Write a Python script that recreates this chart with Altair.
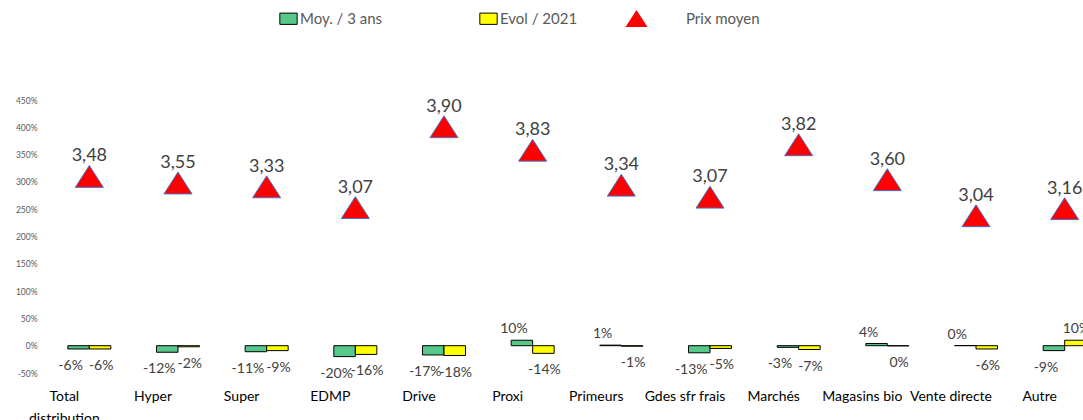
import altair as alt
import pandas as pd

categories = ["Total distribution", "Hyper", "Super", "EDMP", "Drive", "Proxi",
              "Primeurs", "Gdes sfr frais", "Marchés", "Magasins bio",
              "Vente directe", "Autre"]
moy_3ans = [-6, -12, -11, -20, -17, 10, 1, -13, -3, 4, 0.3, -9]
evol_2021 = [-6, -2, -9, -16, -18, -14, -1, -5, -7, -0.3, -6, 10]
prix_moyen = [3.48, 3.55, 3.33, 3.07, 3.90, 3.83, 3.34, 3.07, 3.82, 3.60, 3.04, 3.16]
prix_position = [310, 298, 291, 253, 401, 358, 294, 272, 368, 304, 238, 251]
y_ticks = [-50, 0, 50, 100, 150, 200, 250, 300, 350, 400, 450]

S1, S2 = "Moy. / 3 ans", "Evol / 2021"
rows = []
for c, a, b in zip(categories, moy_3ans, evol_2021):
    rows.append({"cat": c, "serie": S1, "v": a, "lab": f"{round(a)}%"})
    rows.append({"cat": c, "serie": S2, "v": b, "lab": f"{round(b)}%"})
bars_df = pd.DataFrame(rows)

pts_df = pd.DataFrame({
    "cat": categories,
    "pos": prix_position,
    "lab": [f"{p:.2f}".replace(".", ",") for p in prix_moyen],
    "leg": ["Prix moyen"] * len(categories),
})

FONT = "Lato"
W = 1038
xscale = alt.Scale(domain=categories, range=[0, 1064], paddingInner=0.515, paddingOuter=0.2575)
yscale = alt.Scale(domain=[-50, 450], nice=False, zero=False)

x_enc = alt.X("cat:N", scale=xscale, sort=categories, title=None,
              axis=alt.Axis(labelAngle=0, domain=False, ticks=False, labelPadding=16,
                            labelFontSize=14, labelFont=FONT, labelColor="#000000",
                            labelOffset=-25, labelLimit=200, labelLineHeight=22,
                            labelExpr="datum.value == 'Total distribution' ? ['Total', 'distribution'] : datum.value"))
y_enc = alt.Y("v:Q", scale=yscale, title=None,
              axis=alt.Axis(values=y_ticks, tickCount=len(y_ticks) + 2, grid=False,
                            domain=False, ticks=False,
                            labelOverlap=False, labelSeparation=0,
                            labelExpr="datum.value + '%'", labelFontSize=8.5, labelFont=FONT,
                            labelColor="#595959", labelPadding=8))

bar_rect = "M-1,-0.65H1V0.65H-1Z"
tri = "M0,-0.78L1,0.78L-1,0.78Z"

bars = alt.Chart(bars_df).mark_bar(stroke="black", strokeWidth=1).encode(
    x=x_enc,
    xOffset=alt.XOffset("serie:N", sort=[S1, S2], scale=alt.Scale(domain=[S1, S2])),
    y=y_enc,
    fill=alt.Fill("serie:N", sort=[S1, S2],
                  scale=alt.Scale(domain=[S1, S2], range=["#55C88A", "#FFFF00"]),
                  legend=alt.Legend(title=None, orient="none", legendX=234, legendY=-91,
                                    direction="horizontal", symbolType=bar_rect,
                                    symbolSize=300, symbolStrokeColor="black",
                                    symbolStrokeWidth=1, labelFont=FONT, labelFontSize=15,
                                    labelColor="#595959", labelOffset=2, columnPadding=94,
                                    padding=0)),
)

def lab_layer(serie, neg):
    cond = f"datum.serie == '{serie}' && datum.v {'<' if neg else '>='} 0"
    return alt.Chart(bars_df).transform_filter(cond).mark_text(
        font=FONT, fontSize=14, color="#404040",
        baseline="top" if neg else "alphabetic",
        dy=10 if neg else -7,
        dx=-8 if serie == S1 else 1,
    ).encode(
        x=alt.X("cat:N", scale=xscale, sort=categories),
        xOffset=alt.XOffset("serie:N", sort=[S1, S2], scale=alt.Scale(domain=[S1, S2])),
        y=alt.Y("v:Q", scale=yscale),
        text="lab:N",
    )

labels = [lab_layer(S1, True), lab_layer(S1, False), lab_layer(S2, True), lab_layer(S2, False)]

points = alt.Chart(pts_df).mark_point(filled=True, fill="#FF0000", stroke="#4472C4",
                                      strokeWidth=1, size=784, opacity=1).encode(
    x=alt.X("cat:N", scale=xscale, sort=categories),
    y=alt.Y("pos:Q", scale=yscale),
    shape=alt.Shape("leg:N", scale=alt.Scale(domain=["Prix moyen"], range=[tri]),
                    legend=alt.Legend(title=None, orient="none", legendX=580, legendY=-93,
                                      symbolSize=484, symbolFillColor="#FF0000",
                                      symbolStrokeColor="#4472C4", symbolStrokeWidth=1,
                                      labelFont=FONT, labelFontSize=15, labelColor="#595959",
                                      labelOffset=38, padding=0)),
)

pt_labels = alt.Chart(pts_df).mark_text(font=FONT, fontSize=18, color="#404040",
                                        baseline="alphabetic", dy=-15).encode(
    x=alt.X("cat:N", scale=xscale, sort=categories),
    y=alt.Y("pos:Q", scale=yscale),
    text="lab:N",
)

chart = alt.layer(bars, *labels, points, pt_labels).properties(
    width=W, height=273,
    background="white",
    autosize=alt.AutoSizeParams(type="none"),
    padding={"left": 45, "top": 100, "right": 0, "bottom": 47},
).resolve_scale(fill="independent", shape="independent").configure_view(
    stroke=None).configure_axis(labelOverlap=False)

chart.save("out.html", embed_options={"renderer": "svg", "actions": False})
